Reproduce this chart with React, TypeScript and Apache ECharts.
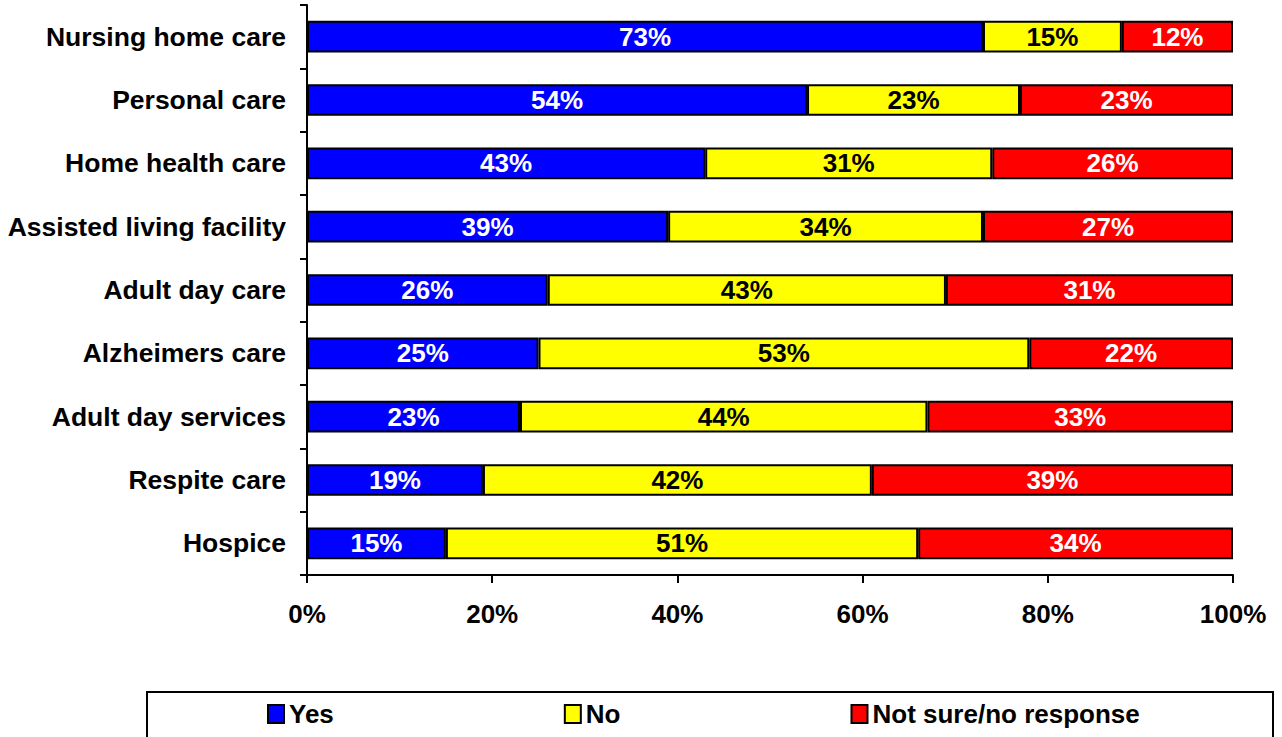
import React, { useEffect, useRef } from "react";
import * as echarts from "echarts";

const categories = [
  "Nursing home care",
  "Personal care",
  "Home health care",
  "Assisted living facility",
  "Adult day care",
  "Alzheimers care",
  "Adult day services",
  "Respite care",
  "Hospice",
];
const yesValues = [73, 54, 43, 39, 26, 25, 23, 19, 15];
const noValues = [15, 23, 31, 34, 43, 53, 44, 42, 51];
const notSureValues = [12, 23, 26, 27, 31, 22, 33, 39, 34];
const xTicks = [0, 20, 40, 60, 80, 100];

const FONT = "'Liberation Sans', Arial, sans-serif";

export default function App() {
  const ref = useRef<HTMLDivElement>(null);

  useEffect(() => {
    if (!ref.current) return;
    const chart = echarts.init(ref.current, undefined, { renderer: "svg" });

    const makeSeries = (name: string, data: number[], color: string, labelColor: string) => ({
      name,
      type: "bar",
      stack: "total",
      data,
      barWidth: "50%",
      itemStyle: { color, borderColor: "#000", borderWidth: 2 },
      label: {
        show: true,
        position: "inside",
        formatter: "{c}%",
        color: labelColor,
        fontFamily: FONT,
        fontWeight: "bold",
        fontSize: 26,
      },
    });

    chart.setOption({
      animation: false,
      backgroundColor: "#fff",
      grid: { left: 307, right: 49, top: 5, bottom: 162, containLabel: false },
      xAxis: {
        type: "value",
        min: xTicks[0],
        max: xTicks[xTicks.length - 1],
        interval: 20,
        axisLine: { show: true, lineStyle: { color: "#000", width: 2 } },
        axisTick: { show: true, length: 8, lineStyle: { color: "#000", width: 2 } },
        splitLine: { show: false },
        axisLabel: {
          formatter: "{value}%",
          color: "#000",
          fontFamily: FONT,
          fontWeight: "bold",
          fontSize: 26,
          margin: 26,
        },
      },
      yAxis: {
        type: "category",
        data: categories,
        inverse: true,
        axisLine: { show: true, lineStyle: { color: "#000", width: 2 } },
        axisTick: { show: true, length: 7, lineStyle: { color: "#000", width: 2 } },
        axisLabel: {
          color: "#000",
          fontFamily: FONT,
          fontWeight: "bold",
          fontSize: 26.5,
          margin: 21,
        },
      },
      legend: {
        left: 262,
        top: 696,
        icon: "rect",
        itemWidth: 16,
        itemHeight: 18,
        itemGap: 230,
        itemStyle: { borderColor: "#000", borderWidth: 2 },
        textStyle: { color: "#000", fontFamily: FONT, fontWeight: "bold", fontSize: 26 },
        data: ["Yes", "No", "Not sure/no response"],
      },
      graphic: [
        {
          type: "rect",
          shape: { x: 147, y: 692, width: 1126, height: 70 },
          style: { fill: "none", stroke: "#000", lineWidth: 2 },
          silent: true,
        },
      ],
      series: [
        makeSeries("Yes", yesValues, "#0000ff", "#fff"),
        makeSeries("No", noValues, "#ffff00", "#000"),
        makeSeries("Not sure/no response", notSureValues, "#ff0000", "#fff"),
      ],
    });

    return () => chart.dispose();
  }, []);

  return (
    <div
      ref={ref}
      style={{ position: "absolute", left: 0, top: 0, width: 1282, height: 737 }}
    />
  );
}
